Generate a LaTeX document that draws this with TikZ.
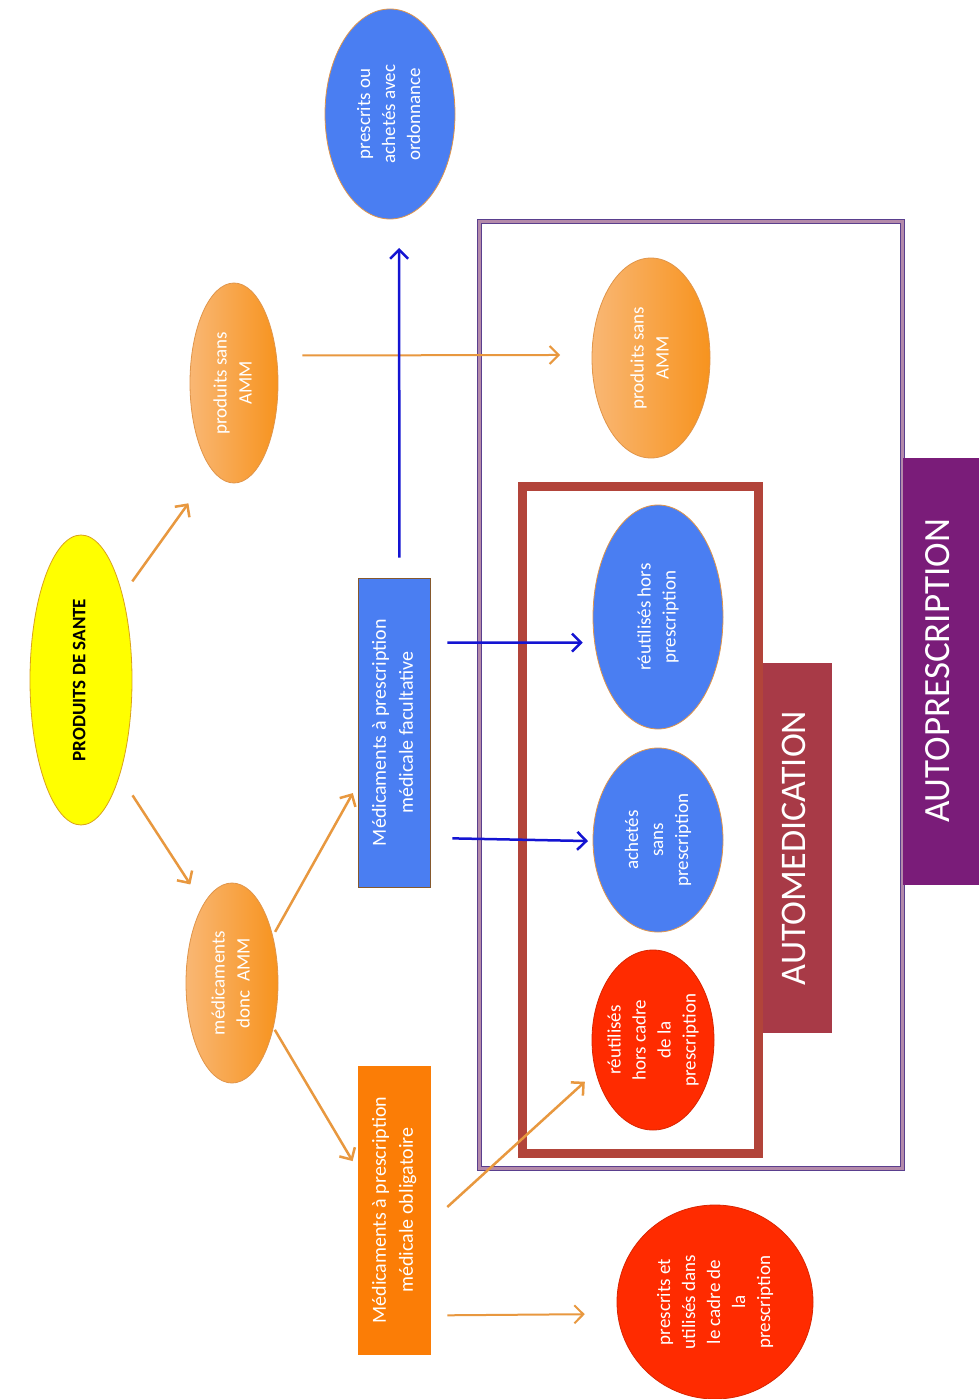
\documentclass[tikz,border=0pt]{standalone}
\usepackage{fontspec}
\setmainfont{Carlito}
\usepackage{graphicx}
\usepackage{xcolor}
\usetikzlibrary{shapes.geometric, arrows.meta}

\definecolor{santeyellow}{HTML}{FFFF00}
\definecolor{santeborder}{HTML}{D9A21B}
\definecolor{orangelight}{HTML}{F9B774}
\definecolor{orangedark}{HTML}{F7931E}
\definecolor{ellborder}{HTML}{E0954A}
\definecolor{medblue}{HTML}{4A7EF2}
\definecolor{oblorange}{HTML}{FB7D06}
\definecolor{medred}{HTML}{FF2B00}
\definecolor{arroworange}{HTML}{E8983F}
\definecolor{arrowblue}{HTML}{1414D2}
\definecolor{framebrown}{HTML}{B2443A}
\definecolor{labelbrown}{HTML}{A83A47}
\definecolor{labelpurple}{HTML}{7A1C79}
\definecolor{frameviolet}{HTML}{5A3F8E}
\definecolor{framemauve}{HTML}{B48AAA}

% rotated, centred text of zero size
\newcommand{\rtext}[1]{\makebox[0pt]{\raisebox{-.5\height}[0pt][0pt]{\rotatebox{90}{\begin{tabular}{@{}c@{}}#1\end{tabular}}}}}

\begin{document}
\begin{tikzpicture}[x=1pt, y=-1pt,
    bubble/.style={ellipse, inner sep=0pt, outer sep=0pt, draw=ellborder, line width=0.8pt, text=white, font=\fontsize{19}{25}\selectfont},
    orangebubble/.style={bubble, left color=orangelight, right color=orangedark},
    bluebubble/.style={bubble, fill=medblue},
    redbubble/.style={bubble, fill=medred, draw=medred!85!black},
    medbox/.style={rectangle, inner sep=0pt, minimum width=72pt, text=white, draw=brown!70!black, line width=0.6pt, font=\fontsize{20}{27}\selectfont},
    tag/.style={rectangle, inner sep=0pt, text=white, font=\fontsize{36}{40}\selectfont},
    oarrow/.style={draw=arroworange, line width=2.5pt, -{Straight Barb[length=9pt, width=18pt]}},
    barrow/.style={draw=arrowblue, line width=2.5pt, -{Straight Barb[length=9pt, width=18pt]}}]
    \useasboundingbox[fill=white] (0,0) rectangle (979,1399);

    % frames
    \node[draw=frameviolet, double=framemauve, double distance=2.5pt, line width=1.5pt, fill=white, minimum width=423pt, minimum height=947pt] (autopresc) at (691,695) {};
    \node[draw=framebrown, line width=9pt, minimum width=236pt, minimum height=667pt] (automed) at (640.5,820) {};
    \node[tag, fill=labelbrown, minimum width=69pt, minimum height=370pt] (automedtag) at (797.5,848) {\rtext{AUTOMEDICATION}};
    \node[tag, fill=labelpurple, font=\fontsize{37}{40}\selectfont, minimum width=76pt, minimum height=427pt] (autopresctag) at (941,671) {\rtext{AUTOPRESCRIPTION}};

    % left part
    \node[bubble, fill=santeyellow, draw=santeborder, text=black, font=\bfseries\fontsize{19}{22}\selectfont, minimum width=102pt, minimum height=290pt] (sante) at (81,680) {\rtext{PRODUITS DE SANTE}};
    \node[orangebubble, minimum width=88pt, minimum height=200pt] (sansamm) at (234,383) {\rtext{produits sans\\AMM}};
    \node[orangebubble, minimum width=92pt, minimum height=200pt] (medic) at (232,983) {\rtext{médicaments\\donc\ \ AMM}};
    \node[bluebubble, minimum width=130pt, minimum height=210pt] (ordo) at (390,114) {\rtext{prescrits ou\\achetés avec\\ordonnance}};
    \node[medbox, fill=medblue, minimum height=309pt] (facult) at (394,732.5) {\rtext{Médicaments à prescription\\médicale facultative}};
    \node[medbox, fill=oblorange, draw=oblorange, minimum height=288pt] (oblig) at (394,1210) {\rtext{Médicaments à prescription\\médicale obligatoire}};

    % right part
    \node[orangebubble, minimum width=118pt, minimum height=200pt] (sansamm2) at (651,358) {\rtext{produits sans\\AMM}};
    \node[bluebubble, minimum width=130pt, minimum height=224pt] (reuthors) at (658,617) {\rtext{réutilisés hors\\prescription}};
    \node[bluebubble, minimum width=130pt, minimum height=184pt] (achetes) at (658,840) {\rtext{achetés\\sans\\prescription}};
    \node[redbubble, minimum width=122pt, minimum height=180pt] (reutcadre) at (653,1040) {\rtext{réutilisés\\hors cadre\\de la\\prescription}};
    \node[redbubble, minimum width=196pt, minimum height=194pt] (prescutil) at (715,1302) {\rtext{prescrits et\\utilisés dans\\le cadre de\\la\\prescription}};

    % connectors
    \draw[oarrow, shorten <=17pt, shorten >=41pt] (sante.64.5) -- (sansamm.256);
    \draw[oarrow, shorten <=24pt, shorten >=24pt] (sante.-68) -- (medic.110);
    \draw[oarrow, shorten <=5pt, shorten >=10pt] (medic.49) -- (facult.235.6);
    \draw[oarrow, shorten <=3pt, shorten >=10pt] (medic.-47) -- (oblig.132.3);
    \draw[oarrow, shorten <=23pt, shorten >=15pt] (oblig.-19) -- (reutcadre.209);
    \draw[oarrow, line width=2pt, shorten <=17pt, shorten >=33pt] (oblig.-71.1) -- (prescutil.187.6);
    \draw[oarrow, line width=2pt, shorten <=26pt, shorten >=32pt] (sansamm.33.6) -- (sansamm2.177);
    \draw[barrow, shorten <=20pt, shorten >=30pt] (facult.88.5) -- (ordo.-85.6);
    \draw[barrow, shorten <=17pt, shorten >=12pt] (facult.68.1) -- (reuthors.202.4);
    \draw[barrow, shorten <=22pt, shorten >=5pt] (facult.-71.8) -- (achetes.181);
\end{tikzpicture}
\end{document}
